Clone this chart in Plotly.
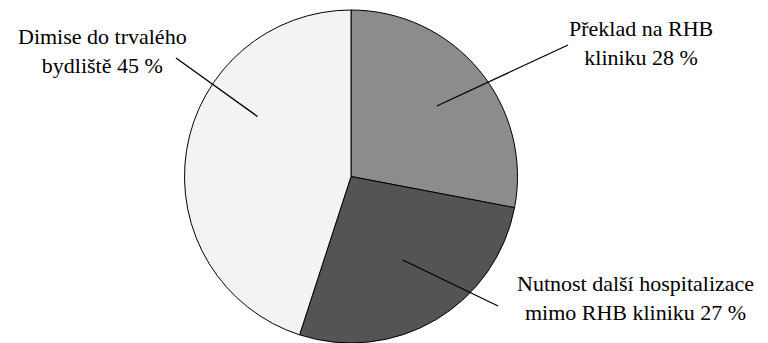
import math
import plotly.graph_objects as go

# Discharge outcomes (share of patients, %)
labels = ["Překlad na RHB<br>kliniku", "Nutnost další hospitalizace<br>mimo RHB kliniku", "Dimise do trvalého<br>bydliště"]
values = [28, 27, 45]
colors = ["#8c8c8c", "#545454", "#f3f3f3"]

W, H = 768, 343
cx, cy, R = 351.0, 176.5, 166.5  # pie centre / radius in px (from top-left)

# label text centres (px) and leader-line geometry
label_pos = [(641, 43), (635, 298), (102, 51)]
leader_angle = [50.6, 148.2, 302.7]      # degrees clockwise from 12 o'clock
leader_frac = [0.667, 0.59, 0.667]       # inner end as fraction of radius
leader_outer = [(568, 45), (498, 306), (176, 58)]

fig = go.Figure(go.Pie(
    labels=labels,
    values=values,
    sort=False,
    direction="clockwise",
    rotation=0,
    marker=dict(colors=colors, line=dict(color="#000000", width=1)),
    textinfo="none",
    showlegend=False,
    domain=dict(x=[(cx - R) / W, (cx + R) / W], y=[(H - cy - R) / H, (H - cy + R) / H]),
))

def px_to_paper(x, y):
    return x / W, 1 - y / H

annotations = []
shapes = []
for lab, val, (tx, ty), ang, frac, (ox, oy) in zip(labels, values, label_pos, leader_angle, leader_frac, leader_outer):
    px, py = px_to_paper(tx, ty)
    annotations.append(dict(
        x=px, y=py, xref="paper", yref="paper", xanchor="center", yanchor="middle",
        text=f"{lab} {val} %", showarrow=False,
        font=dict(family="Liberation Serif", size=22),
    ))
    a = math.radians(ang)
    ix = cx + frac * R * math.sin(a)
    iy = cy - frac * R * math.cos(a)
    x0, y0 = px_to_paper(ix, iy)
    x1, y1 = px_to_paper(ox, oy)
    shapes.append(dict(type="line", xref="paper", yref="paper", x0=x0, y0=y0, x1=x1, y1=y1,
                       line=dict(color="#000000", width=1.3)))

fig.update_layout(
    width=W, height=H,
    margin=dict(l=0, r=0, t=0, b=0),
    font=dict(family="Liberation Serif", color="#000000"),
    annotations=annotations,
    shapes=shapes,
)

fig.write_html("out.html")
